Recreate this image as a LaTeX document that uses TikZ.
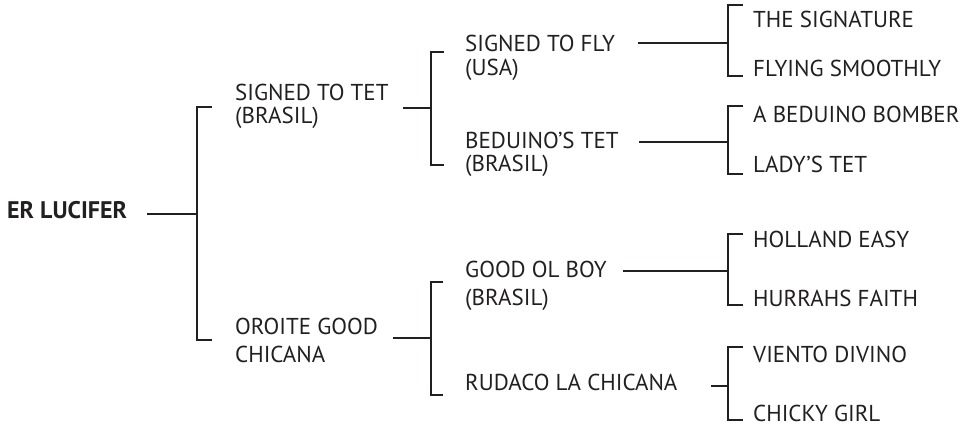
\documentclass[tikz,border=0pt]{standalone}
\usepackage{fontspec}
\setmainfont{PT Sans}
\definecolor{ink}{HTML}{231F20}
\begin{document}
\begin{tikzpicture}[x=1pt,y=-1pt,
  lbl/.style={anchor=base west, inner sep=0pt, font=\fontsize{23}{27}\selectfont, text=ink},
  ln/.style={draw=ink, line width=2.4pt, line join=miter}]
\useasboundingbox (0,0) rectangle (973,425);
% labels
\node[lbl, font=\fontsize{24}{28}\selectfont\bfseries] (root) at (7,218) {ER LUCIFER};
\node[lbl] (s1) at (235,100) {SIGNED TO TET};
\node[lbl] (s1b) at (235,123) {(BRASIL)};
\node[lbl] (d1) at (235,334) {OROITE GOOD};
\node[lbl] (d1b) at (235,362) {CHICANA};
\node[lbl] (ss1) at (465,52) {SIGNED TO FLY};
\node[lbl] (ss1b) at (465,76) {(USA)};
\node[lbl] (ss2) at (465,148) {BEDUINO’S TET};
\node[lbl] (ss2b) at (465,171) {(BRASIL)};
\node[lbl] (sd1) at (465,277) {GOOD OL BOY};
\node[lbl] (sd1b) at (465,305) {(BRASIL)};
\node[lbl] (sd2) at (465,390) {RUDACO LA CHICANA};
\node[lbl] (l1) at (753,28) {THE SIGNATURE};
\node[lbl] (l2) at (753,77) {FLYING SMOOTHLY};
\node[lbl] (l3) at (753,122) {A BEDUINO BOMBER};
\node[lbl] (l4) at (753,172) {LADY’S TET};
\node[lbl] (l5) at (753,247) {HOLLAND EASY};
\node[lbl] (l6) at (753,306) {HURRAHS FAITH};
\node[lbl] (l7) at (753,362) {VIENTO DIVINO};
\node[lbl] (l8) at (753,421) {CHICKY GIRL};
% connector starts and junctions
\coordinate (c0) at (147,214); \coordinate (j0) at (197,214);
\coordinate (c1) at (403,108); \coordinate (j1) at (431,108);
\coordinate (c2) at (393,338); \coordinate (j2) at (431,338);
\coordinate (c3) at (638,43);  \coordinate (j3) at (728,43);
\coordinate (c4) at (639,142); \coordinate (j4) at (728,142);
\coordinate (c5) at (623,271); \coordinate (j5) at (728,271);
\coordinate (c6) at (711,386); \coordinate (j6) at (728,386);
\draw[ln] (c0) -- (j0);
\draw[ln] (212,107) -- (197,107) -- (197,340) -- (212,340);
\draw[ln] (c1) -- (j1);
\draw[ln] (444,52) -- (431,52) -- (431,165) -- (444,165);
\draw[ln] (c2) -- (j2);
\draw[ln] (443,282) -- (431,282) -- (431,395) -- (443,395);
\draw[ln] (c3) -- (j3);
\draw[ln] (743,5) -- (728,5) -- (728,76) -- (743,76);
\draw[ln] (c4) -- (j4);
\draw[ln] (743,106) -- (728,106) -- (728,174) -- (743,174);
\draw[ln] (c5) -- (j5);
\draw[ln] (743,234) -- (728,234) -- (728,305) -- (743,305);
\draw[ln] (c6) -- (j6);
\draw[ln] (743,347) -- (728,347) -- (728,420) -- (743,420);
\end{tikzpicture}
\end{document}
